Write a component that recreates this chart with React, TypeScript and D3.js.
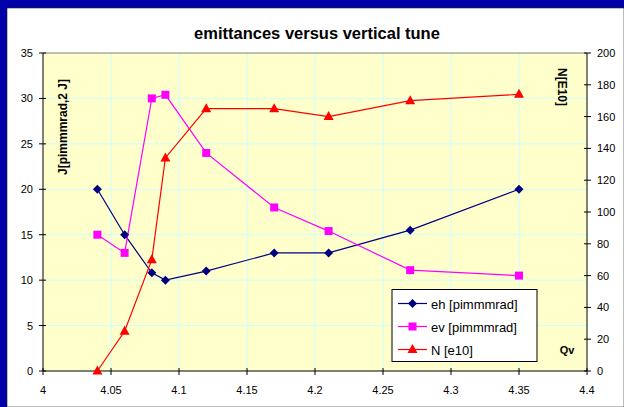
import React from "react";
import * as d3 from "d3";

const qv = [4.04, 4.06, 4.08, 4.09, 4.12, 4.17, 4.21, 4.27, 4.35];
const eh = [20, 15, 10.8, 10, 11, 13, 13, 15.5, 20];
const ev = [15, 13, 30, 30.4, 24, 18, 15.4, 11.1, 10.5];
const nE10 = [0, 25, 70, 134, 165, 165, 160, 170, 174];
const xTicks = [4, 4.05, 4.1, 4.15, 4.2, 4.25, 4.3, 4.35, 4.4];
const yLeftTicks = [0, 5, 10, 15, 20, 25, 30, 35];
const yRightTicks = [0, 20, 40, 60, 80, 100, 120, 140, 160, 180, 200];
const legendLabels = ["eh [pimmmrad]", "ev [pimmmrad]", "N [e10]"];

const W = 624, H = 407;
const L = 43, R = 587, T = 53, B = 371;
const FONT = "'Liberation Sans', Arial, sans-serif";

export default function App() {
  const x = d3.scaleLinear().domain([4, 4.4]).range([L, R]);
  const yl = d3.scaleLinear().domain([0, 35]).range([B, T]);
  const yr = d3.scaleLinear().domain([0, 200]).range([B, T]);

  const lineL = d3.line<number>().x((_, i) => x(qv[i])).y((d) => yl(d));
  const lineR = d3.line<number>().x((_, i) => x(qv[i])).y((d) => yr(d));

  const diamond = (cx: number, cy: number, k: string | number) => (
    <path key={k} d={`M${cx},${cy - 4.5}L${cx + 4.5},${cy}L${cx},${cy + 4.5}L${cx - 4.5},${cy}Z`} fill="#000080" />
  );
  const square = (cx: number, cy: number, k: string | number) => (
    <rect key={k} x={cx - 4} y={cy - 4} width={8} height={8} fill="#FF00FF" />
  );
  const tri = (cx: number, cy: number, k: string | number) => (
    <path key={k} d={`M${cx},${cy - 5.5}L${cx + 5},${cy + 3.5}L${cx - 5},${cy + 3.5}Z`} fill="#FF0000" />
  );

  const colors = ["#000080", "#FF00FF", "#FF0000"];
  const markers = [diamond, square, tri];

  return (
    <svg width={W} height={H} style={{ position: "absolute", left: 0, top: 0 }}>
      <rect x={0} y={0} width={W} height={H} fill="#0000A8" />
      <rect x={7} y={8} width={W - 7} height={H - 8} fill="#ffffff" stroke="#222" strokeWidth={0.6} />
      <text x={317} y={39} textAnchor="middle" fontFamily={FONT} fontWeight="bold" fontSize={16.5} fill="#000">
        emittances versus vertical tune
      </text>
      <rect x={L} y={T} width={R - L} height={B - T} fill="#FFFFCC" />
      {xTicks.slice(1, -1).map((t) => (
        <line key={"gx" + t} x1={x(t)} x2={x(t)} y1={T} y2={B} stroke="#CCFFFF" strokeWidth={1} />
      ))}
      {yLeftTicks.slice(1, -1).map((t) => (
        <line key={"gy" + t} x1={L} x2={R} y1={yl(t)} y2={yl(t)} stroke="#CCFFFF" strokeWidth={1} />
      ))}
      <line x1={L} x2={R} y1={T} y2={T} stroke="#808080" strokeWidth={1} />
      <line x1={L} x2={L} y1={T} y2={B} stroke="#000" strokeWidth={1} />
      <line x1={R} x2={R} y1={T} y2={B} stroke="#000" strokeWidth={1} />
      <line x1={L} x2={R} y1={B} y2={B} stroke="#000" strokeWidth={1} />
      {xTicks.map((t) => (
        <g key={"xt" + t}>
          <line x1={x(t)} x2={x(t)} y1={B - 3} y2={B + 4} stroke="#000" />
          <text x={x(t)} y={394} textAnchor="middle" fontFamily={FONT} fontSize={11} fill="#000">{t}</text>
        </g>
      ))}
      {yLeftTicks.map((t) => (
        <g key={"yl" + t}>
          <line x1={L - 4} x2={L + 3} y1={yl(t)} y2={yl(t)} stroke="#000" />
          <text x={33} y={yl(t) + 4} textAnchor="end" fontFamily={FONT} fontSize={11} fill="#000">{t}</text>
        </g>
      ))}
      {yRightTicks.map((t) => (
        <g key={"yr" + t}>
          <line x1={R - 3} x2={R + 4} y1={yr(t)} y2={yr(t)} stroke="#000" />
          <text x={597} y={yr(t) + 4} textAnchor="start" fontFamily={FONT} fontSize={11} fill="#000">{t}</text>
        </g>
      ))}
      <text transform="translate(67,127) rotate(-90)" textAnchor="middle" fontFamily={FONT} fontWeight="bold" fontSize={12} fill="#000">
        J[pimmmrad,2 J]
      </text>
      <text transform="translate(558,87) rotate(90)" textAnchor="middle" fontFamily={FONT} fontWeight="bold" fontSize={12} fill="#000">
        N[E10]
      </text>
      <text x={567} y={354} textAnchor="middle" fontFamily={FONT} fontWeight="bold" fontSize={11} fill="#000">Qv</text>

      <path d={lineL(eh) || ""} fill="none" stroke="#000080" strokeWidth={1.2} />
      <path d={lineL(ev) || ""} fill="none" stroke="#FF00FF" strokeWidth={1.2} />
      <path d={lineR(nE10) || ""} fill="none" stroke="#FF0000" strokeWidth={1.2} />
      {eh.map((v, i) => diamond(x(qv[i]), yl(v), "d" + i))}
      {ev.map((v, i) => square(x(qv[i]), yl(v), "s" + i))}
      {nE10.map((v, i) => tri(x(qv[i]), yr(v), "t" + i))}

      <rect x={392} y={289.5} width={145} height={72} fill="#fff" stroke="#000" strokeWidth={1} />
      {legendLabels.map((lab, i) => {
        const yy = 303.5 + i * 23;
        return (
          <g key={"lg" + i}>
            <line x1={398} x2={427} y1={yy} y2={yy} stroke={colors[i]} strokeWidth={1.2} />
            {markers[i](412.5, yy, "lm" + i)}
            <text x={431} y={yy + 5} fontFamily={FONT} fontSize={13} fill="#000">{lab}</text>
          </g>
        );
      })}
    </svg>
  );
}
